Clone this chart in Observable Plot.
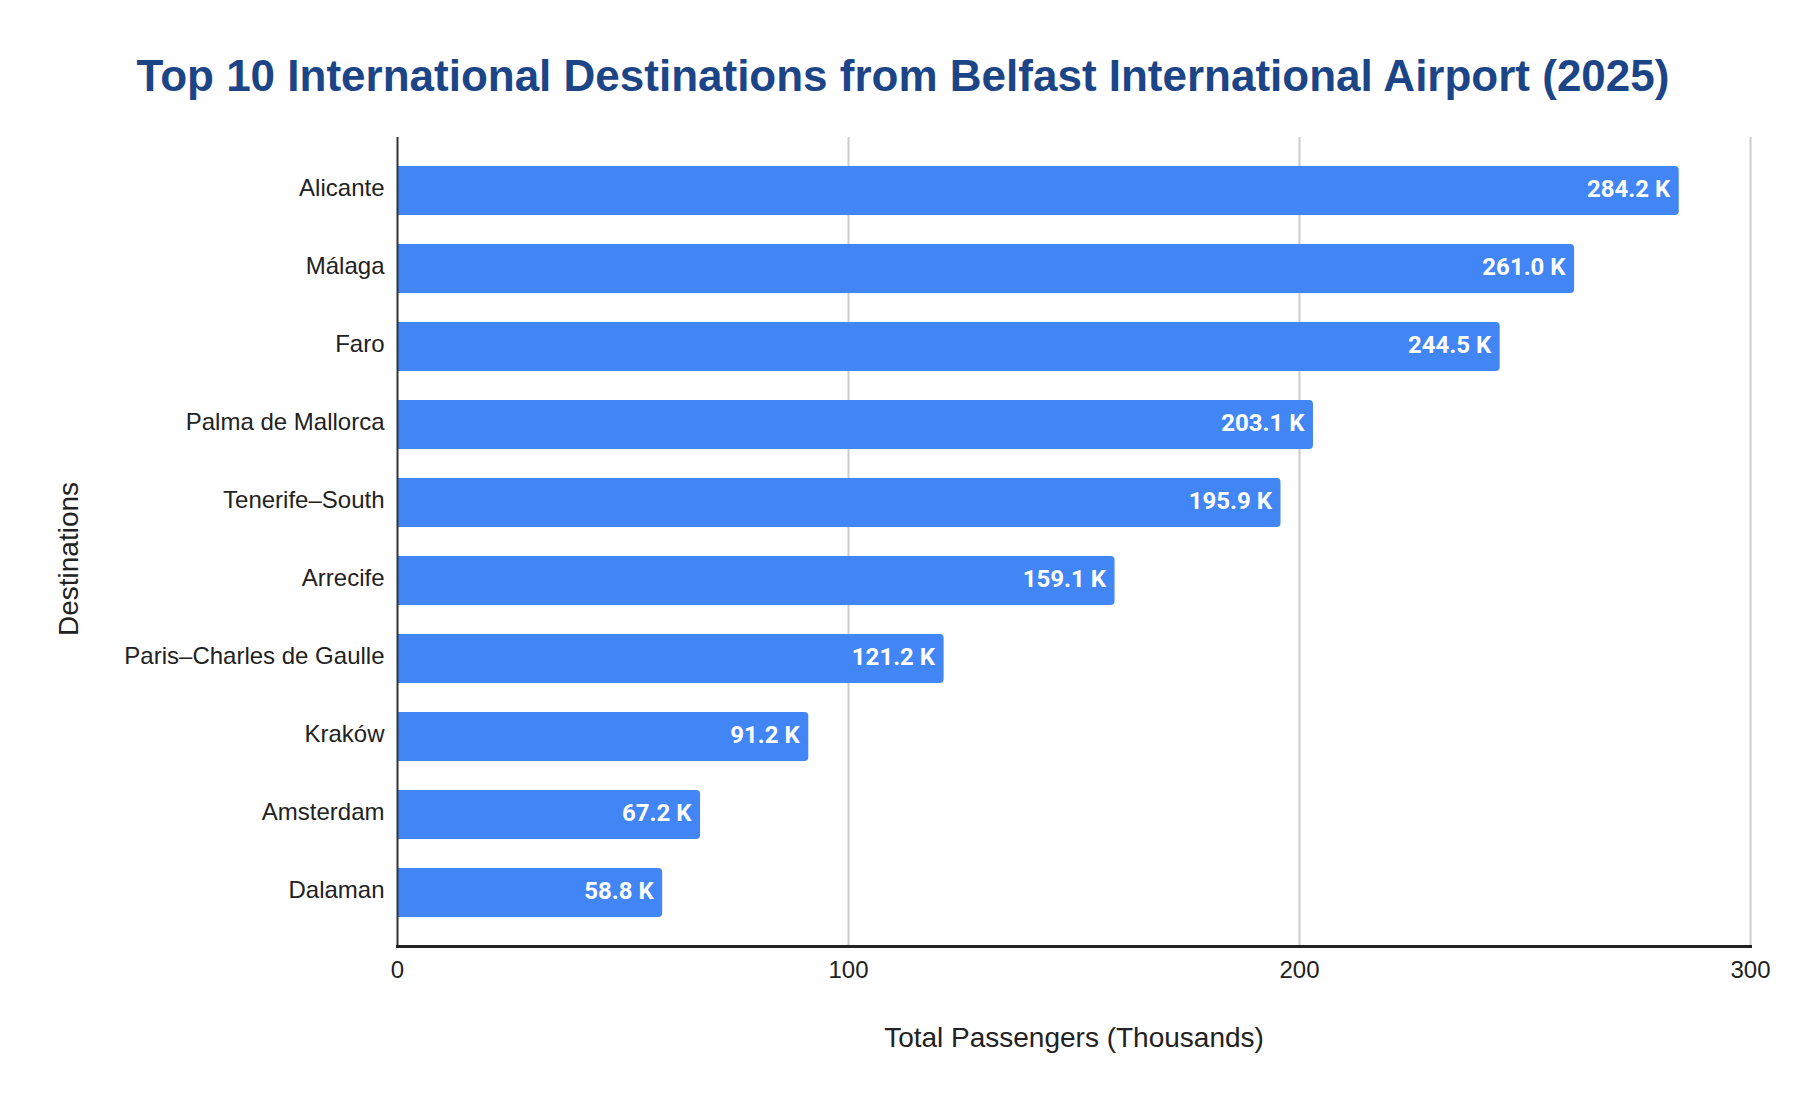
<!DOCTYPE html>
<html>
<head>
<meta charset="utf-8">
<script src="https://cdn.jsdelivr.net/npm/d3@7"></script>
<script src="https://cdn.jsdelivr.net/npm/@observablehq/plot@0.6"></script>
<style>
  html, body { margin: 0; padding: 0; background: #fff; }
  #title-wrap { position: relative; height: 120px; }
  #title {
    position: absolute; top: 76px; left: 0; right: 0; transform: translateY(-50%);
    text-align: center; font-family: "Liberation Sans", Arial, sans-serif;
    font-weight: bold; font-size: 44px; color: #1c4587; white-space: nowrap;
  }
</style>
</head>
<body>
<div id="title-wrap"><div id="title">Top 10 International Destinations from Belfast International Airport (2025)</div></div>
<div id="chart"></div>
<script>
const destinations = ["Alicante", "Málaga", "Faro", "Palma de Mallorca", "Tenerife–South", "Arrecife", "Paris–Charles de Gaulle", "Kraków", "Amsterdam", "Dalaman"];
const passengers = [284.2, 261.0, 244.5, 203.1, 195.9, 159.1, 121.2, 91.2, 67.2, 58.8];
const xTicks = [0, 100, 200, 300];
const gridValues = [100, 200, 300];
const xTitle = "Total Passengers (Thousands)";
const yTitle = "Destinations";

const chart = Plot.plot({
  width: 1806,
  height: 988,
  marginTop: 17,
  marginBottom: 162,
  marginLeft: 397,
  marginRight: 56,
  style: { fontFamily: "'Liberation Sans', Arial, sans-serif", fontSize: "24px", color: "#222", background: "#fff" },
  x: { domain: [0, 300], label: null },
  y: { domain: destinations, paddingInner: 0.367, paddingOuter: 0.356, label: null },
  marks: [
    Plot.ruleX(gridValues, { stroke: "#cccccc", strokeWidth: 2 }),
    Plot.barX(passengers, { x: passengers, y: destinations, fill: "#4285f4", rx: 4, insetLeft: -8, clip: true }),
    Plot.text(passengers, {
      x: passengers, y: destinations, text: d => d.toFixed(1) + " K",
      textAnchor: "end", dx: -9, dy: -2, fill: "white", fontWeight: "bold",
      fontFamily: "Roboto, sans-serif", fontSize: 24
    }),
    Plot.ruleX([0], { stroke: "#333", strokeWidth: 2 }),
    Plot.frame({ anchor: "bottom", stroke: "#222", strokeWidth: 3 }),
    Plot.axisX(xTicks, { tickFormat: d => String(d), label: null, tickSize: 0, tickPadding: 14 }),
    Plot.axisY({ label: null, tickSize: 0, tickPadding: 13, dy: -3 }),
    Plot.text([xTitle], { text: d => d, frameAnchor: "bottom", dy: 100, fontSize: 28, fill: "#222" }),
    Plot.text([yTitle], { text: d => d, frameAnchor: "left", textAnchor: "middle", dx: -328, dy: 17, rotate: -90, fontSize: 28, fill: "#222" })
  ]
});
document.getElementById("chart").appendChild(chart);
</script>
</body>
</html>
